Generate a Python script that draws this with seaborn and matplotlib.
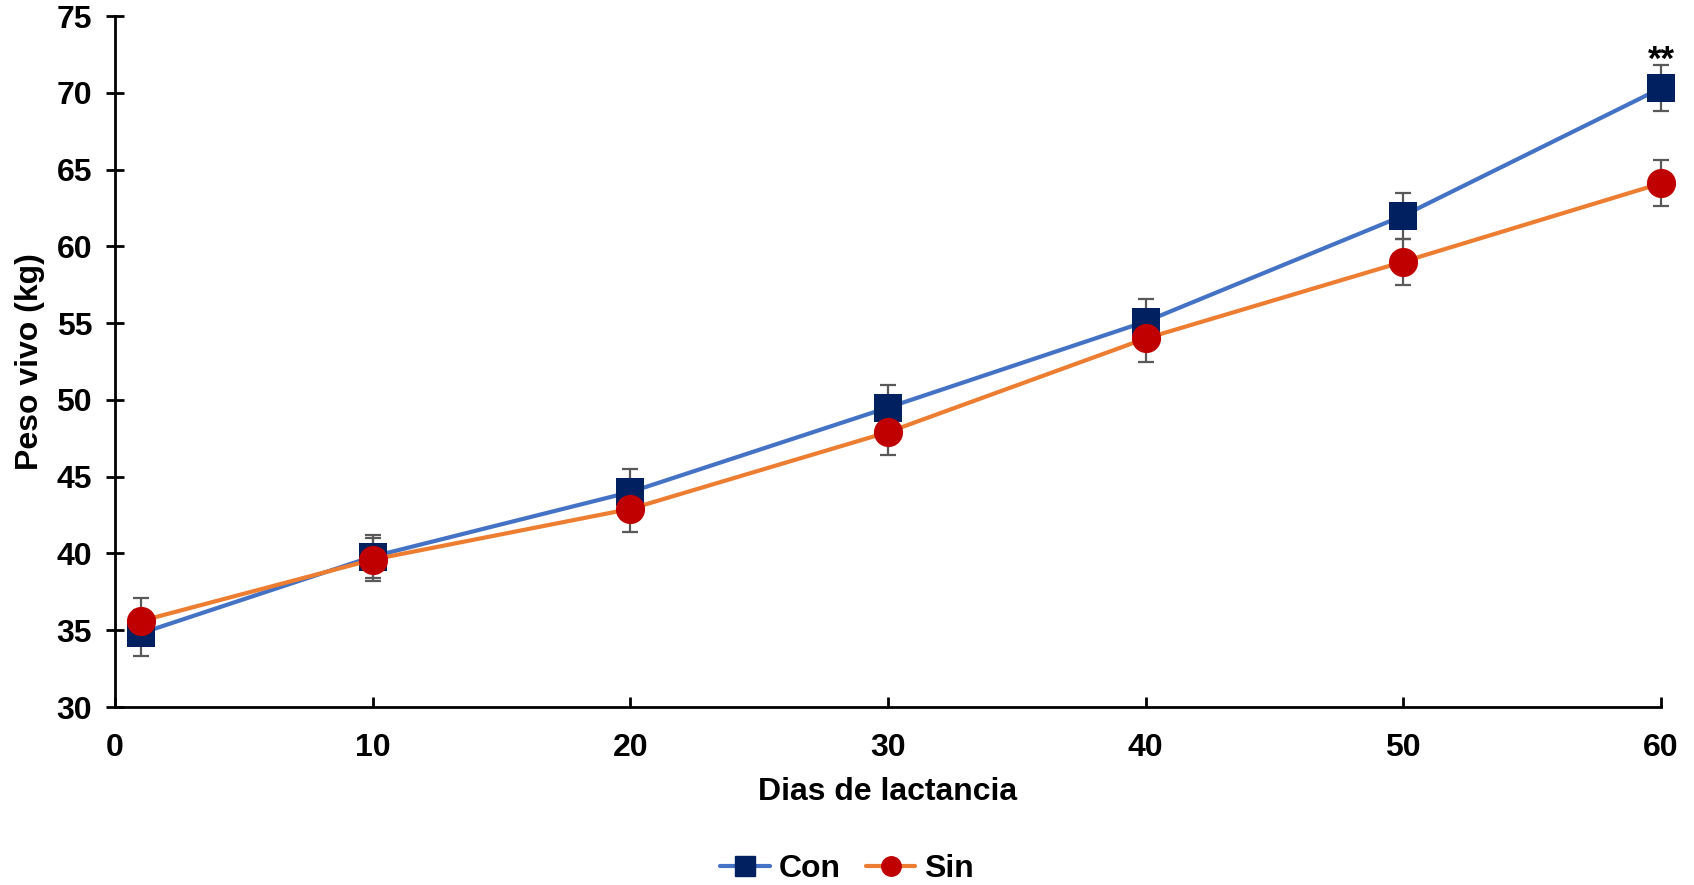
import matplotlib
matplotlib.use("Agg")
import matplotlib.pyplot as plt
import seaborn as sns
import pandas as pd
from matplotlib.lines import Line2D

days = [1, 10, 20, 30, 40, 50, 60]
con_values = [34.8, 39.8, 44.0, 49.5, 55.1, 62.0, 70.3]
sin_values = [35.6, 39.6, 42.9, 47.9, 54.0, 59.0, 64.1]
con_err = [1.5, 1.4, 1.5, 1.5, 1.5, 1.5, 1.5]
sin_err = [1.5, 1.4, 1.5, 1.5, 1.5, 1.5, 1.5]
series_names = ["Con", "Sin"]
x_label = "Dias de lactancia"
y_label = "Peso vivo (kg)"
x_ticks = [0, 10, 20, 30, 40, 50, 60]
y_ticks = [30, 35, 40, 45, 50, 55, 60, 65, 70, 75]

sns.set_theme(style="white")
plt.rcParams["font.family"] = ["Liberation Sans", "DejaVu Sans"]
plt.rcParams["font.weight"] = "bold"
for k in ["text.color", "axes.labelcolor", "xtick.color", "ytick.color"]:
    plt.rcParams[k] = "black"

FS = 23
TFS = 23

fig = plt.figure(figsize=(16.94, 8.85), dpi=100)
ax = fig.add_axes([0.0679, 0.2011, 0.9126, 0.7808])

line_colors = ["#4472C4", "#ED7D31"]
marker_colors = ["#002060", "#C00000"]
markers = ["s", "o"]
msizes = [20, 21]

df_con = pd.DataFrame({"day": days, "peso": con_values})
df_sin = pd.DataFrame({"day": days, "peso": sin_values})

for i, (df, err) in enumerate([(df_con, con_err), (df_sin, sin_err)]):
    ax.errorbar(df["day"], df["peso"], yerr=err, fmt="none", ecolor="#595959",
                elinewidth=1.6, capsize=6, capthick=1.6, zorder=2 + i * 0.01, clip_on=False)
    sns.lineplot(data=df, x="day", y="peso", ax=ax, color=line_colors[i], linewidth=3,
                 marker=markers[i], markersize=msizes[i], markerfacecolor=marker_colors[i],
                 markeredgecolor=marker_colors[i], markeredgewidth=0, zorder=3 + i,
                 clip_on=False, legend=False)

ax.text(60, 72.1, "**", ha="center", va="center", fontsize=25, fontweight="bold", color="black")

ax.set_xlim(0, 60)
ax.set_ylim(30, 75)
ax.set_xticks(x_ticks)
ax.set_yticks(y_ticks)
ax.set_xticklabels([str(t) for t in x_ticks], fontsize=TFS, fontweight="bold")
ax.set_yticklabels([str(t) for t in y_ticks], fontsize=TFS, fontweight="bold")
ax.set_xlabel(x_label, fontsize=FS, fontweight="bold", labelpad=10)
ax.set_ylabel(y_label, fontsize=FS, fontweight="bold", labelpad=8)

for s in ["top", "right"]:
    ax.spines[s].set_visible(False)
for s in ["left", "bottom"]:
    ax.spines[s].set_color("black")
    ax.spines[s].set_linewidth(2)
ax.tick_params(axis="y", direction="inout", length=13, width=2, color="black", pad=10)
ax.tick_params(axis="x", direction="in", length=7, width=2, color="black", pad=19)
ax.tick_params(left=True, bottom=True)

handles = [Line2D([0], [0], color=line_colors[i], linewidth=3, marker=markers[i],
                  markersize=14, markerfacecolor=marker_colors[i],
                  markeredgecolor=marker_colors[i]) for i in range(2)]
fig.legend(handles, series_names, loc="lower center", bbox_to_anchor=(0.5, -0.031), ncol=2,
           frameon=False, prop={"size": FS, "weight": "bold"}, handlelength=1.55,
           handletextpad=0.27, columnspacing=0.8)

fig.savefig("out.png", dpi=100)
